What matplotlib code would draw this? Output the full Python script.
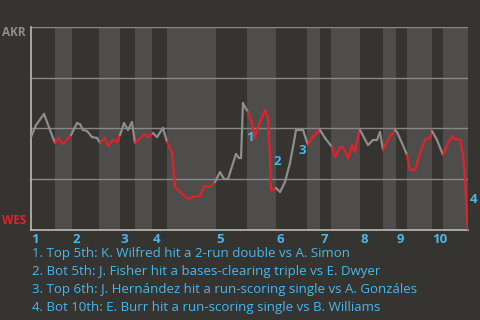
import matplotlib
matplotlib.use("Agg")
import matplotlib.pyplot as plt
from matplotlib.collections import LineCollection
import numpy as np

# ── data ──────────────────────────────────────────────
# play sequence position and AKR win probability (%)
play_pos = [0, 5, 13, 19, 24, 27, 32, 40, 46, 49, 52, 56, 61, 66, 69, 74, 77, 82, 86, 89,
            93, 97, 101, 104, 114, 117, 122, 126, 132, 136, 141, 144, 149, 157, 161, 169,
            173, 179, 184, 189, 193, 197, 205, 208, 210, 212, 214, 217, 220, 224, 227, 234,
            237, 239, 240, 242, 245, 249, 254, 259, 262, 265, 272, 277, 281, 289, 294, 301,
            304, 309, 312, 317, 321, 324, 328, 329, 337, 342, 346, 349, 352, 357, 364, 366,
            371, 376, 379, 384, 389, 394, 399, 401, 406, 412, 417, 421, 424, 429, 432, 434,
            436, 437]
akr_wp = [45.7, 51.6, 57.1, 49.2, 42.8, 45.3, 42.3, 46.7, 52.6, 52.1, 49.2, 48.7, 45.7,
          45.3, 42.8, 45.3, 41.3, 44.3, 43.3, 46.7, 52.6, 49.2, 53.1, 42.8, 47.2, 45.7,
          47.7, 45.7, 50.2, 43.3, 38.4, 21.2, 18.7, 15.2, 16.2, 16.7, 21.6, 21.2, 23.6,
          28.5, 25.1, 25.1, 37.4, 35.4, 35.4, 62.5, 60.5, 58.0, 54.1, 45.3, 50.7, 59.0,
          55.1, 36.9, 19.7, 19.7, 20.7, 18.7, 23.6, 33.0, 40.8, 49.2, 49.2, 41.8, 45.3,
          49.2, 45.3, 40.8, 35.9, 40.8, 40.8, 35.4, 41.8, 38.4, 48.2, 49.2, 41.8, 44.3,
          44.3, 48.2, 39.4, 44.3, 49.2, 48.2, 42.8, 36.9, 29.5, 29.5, 37.9, 44.3, 45.3,
          48.7, 44.3, 36.9, 42.8, 46.2, 44.8, 44.3, 36.9, 25.6, 6.4, 0.0]

# half-inning boundaries (top, bottom, top, bottom, ...)
half_edges = [0, 24, 41, 68, 89, 104, 121, 136, 185, 216, 245, 276, 289, 300,
              329, 352, 365, 376, 401, 412, 437]
innings = ["1", "2", "3", "4", "5", "6", "7", "8", "9", "10"]

# key plays: (label, position, wp) of the number marker
key_labels = ["1", "2", "3", "4"]
key_pos = [215, 243, 267, 439]
key_wp = [45.7, 33.9, 38.9, 14.8]
key_text = [
    "1. Top 5th: K. Wilfred hit a 2-run double vs A. Simon",
    "2. Bot 5th: J. Fisher hit a bases-clearing triple vs E. Dwyer",
    "3. Top 6th: J. Hernández hit a run-scoring single vs A. Gonzáles",
    "4. Bot 10th: E. Burr hit a run-scoring single vs B. Williams",
]

# ── style ─────────────────────────────────────────────
BG = "#363431"
BAND = "#4f4d4b"
GRID = "#8a8886"
AXIS = "#bdbbb8"
GRAY_LINE = "#8f8d8b"
RED = "#e3212b"
BLUE = "#4cb6ea"

plt.rcParams["font.family"] = ["Open Sans", "DejaVu Sans"]

fig = plt.figure(figsize=(4.8, 3.2), dpi=100, facecolor=BG)
ax = fig.add_axes([31 / 480, 90 / 320, 437 / 480, 203.3 / 320])
ax.set_facecolor(BG)
ax.set_xlim(half_edges[0], half_edges[-1])
ax.set_ylim(0, 100)

# bottom halves get lighter band
for i in range(1, len(half_edges) - 1, 2):
    ax.axvspan(half_edges[i], half_edges[i + 1], color=BAND, lw=0, zorder=0)

for g in [25, 50, 75, 100]:
    ax.axhline(g, color=GRID, lw=1, zorder=1)

for s in ["top", "right"]:
    ax.spines[s].set_visible(False)
for s in ["left", "bottom"]:
    ax.spines[s].set_color(AXIS)
    ax.spines[s].set_linewidth(1.2)
ax.set_xticks([])
ax.set_yticks([])

# line coloured by half inning (top=AKR batting gray, bottom=WES red)
pts = np.column_stack([play_pos, akr_wp])
segs = np.stack([pts[:-1], pts[1:]], axis=1)
mids = (pts[:-1, 0] + pts[1:, 0]) / 2
half_idx = np.searchsorted(half_edges, mids, side="right") - 1
colors = [GRAY_LINE if h % 2 == 0 else RED for h in half_idx]
lc = LineCollection(segs, colors=colors, linewidths=1.6, zorder=3, capstyle="round")
ax.add_collection(lc)

# inning labels
for k, lab in enumerate(innings):
    ax.text(half_edges[2 * k] + 0.5, -0.045, lab, transform=ax.get_xaxis_transform(),
            ha="left", va="center", color=BLUE, fontsize=9.5, fontweight="bold",
            clip_on=False)

# key play markers
for lab, x, y in zip(key_labels, key_pos, key_wp):
    ax.text(x, y, lab, ha="left", va="center", color=BLUE, fontsize=9.5,
            fontweight="bold", zorder=4, clip_on=False)

fig.text(2 / 480, 1 - 33 / 320, "AKR", color="#8f8d8b", fontsize=8.5,
         fontweight="bold", ha="left", va="center")
fig.text(2 / 480, 1 - 221 / 320, "WES", color=RED, fontsize=8.5,
         fontweight="bold", ha="left", va="center")

for i, t in enumerate(key_text):
    fig.text(32 / 480, 1 - (253 + 18 * i) / 320, t, color=BLUE, fontsize=9.5,
             ha="left", va="center")

fig.savefig("out.png", dpi=100, facecolor=BG)
